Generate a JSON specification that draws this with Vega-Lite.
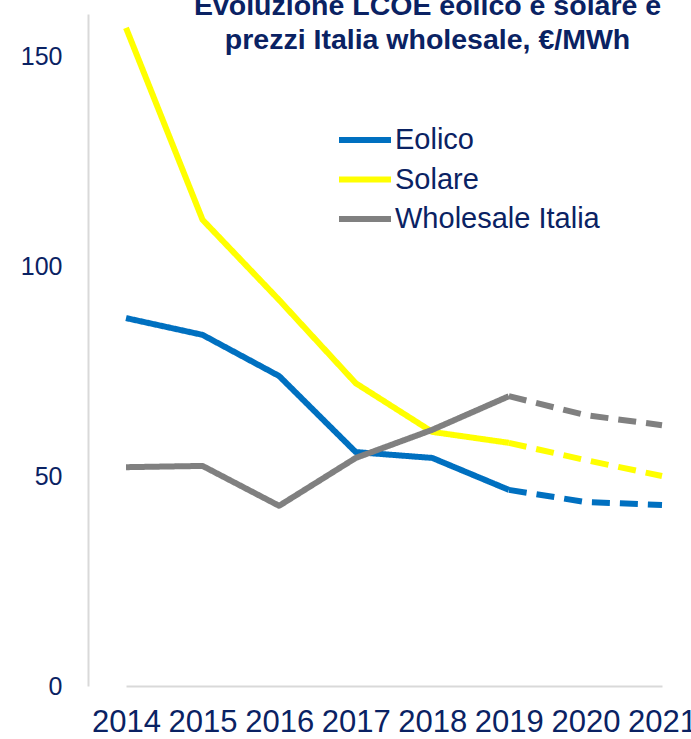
{
  "$schema": "https://vega.github.io/schema/vega-lite/v6.json",
  "width": 603,
  "height": 672,
  "autosize": {"type": "none"},
  "padding": {"left": 88, "top": 14, "right": 0, "bottom": 53},
  "background": "white",
  "config": {
    "view": {"stroke": null},
    "font": "Liberation Sans"
  },
  "title": {
    "text": ["Evoluzione LCOE eolico e solare e", "prezzi Italia wholesale, €/MWh"],
    "fontSize": 28.5,
    "fontWeight": "bold",
    "color": "#0a2263",
    "lineHeight": 34,
    "anchor": "middle",
    "dx": 38,
    "dy": 44,
    "font": "Liberation Sans"
  },
  "data": {
    "values": [
      {"anno": "2014", "serie": "Eolico", "tratto": "storico", "valore": 87.6},
      {"anno": "2015", "serie": "Eolico", "tratto": "storico", "valore": 83.6},
      {"anno": "2016", "serie": "Eolico", "tratto": "storico", "valore": 73.8},
      {"anno": "2017", "serie": "Eolico", "tratto": "storico", "valore": 55.7},
      {"anno": "2018", "serie": "Eolico", "tratto": "storico", "valore": 54.3},
      {"anno": "2019", "serie": "Eolico", "tratto": "storico", "valore": 46.7},
      {"anno": "2019", "serie": "Eolico", "tratto": "stima", "valore": 46.7},
      {"anno": "2020", "serie": "Eolico", "tratto": "stima", "valore": 43.8},
      {"anno": "2021", "serie": "Eolico", "tratto": "stima", "valore": 43.1},
      {"anno": "2014", "serie": "Solare", "tratto": "storico", "valore": 156.7},
      {"anno": "2015", "serie": "Solare", "tratto": "storico", "valore": 111.0},
      {"anno": "2016", "serie": "Solare", "tratto": "storico", "valore": 91.9},
      {"anno": "2017", "serie": "Solare", "tratto": "storico", "valore": 72.1},
      {"anno": "2018", "serie": "Solare", "tratto": "storico", "valore": 60.5},
      {"anno": "2019", "serie": "Solare", "tratto": "storico", "valore": 57.9},
      {"anno": "2019", "serie": "Solare", "tratto": "stima", "valore": 57.9},
      {"anno": "2020", "serie": "Solare", "tratto": "stima", "valore": 53.8},
      {"anno": "2021", "serie": "Solare", "tratto": "stima", "valore": 50.0},
      {"anno": "2014", "serie": "Wholesale Italia", "tratto": "storico", "valore": 52.1},
      {"anno": "2015", "serie": "Wholesale Italia", "tratto": "storico", "valore": 52.4},
      {"anno": "2016", "serie": "Wholesale Italia", "tratto": "storico", "valore": 42.9},
      {"anno": "2017", "serie": "Wholesale Italia", "tratto": "storico", "valore": 54.3},
      {"anno": "2018", "serie": "Wholesale Italia", "tratto": "storico", "valore": 61.0},
      {"anno": "2019", "serie": "Wholesale Italia", "tratto": "storico", "valore": 69.0},
      {"anno": "2019", "serie": "Wholesale Italia", "tratto": "stima", "valore": 69.0},
      {"anno": "2020", "serie": "Wholesale Italia", "tratto": "stima", "valore": 64.5},
      {"anno": "2021", "serie": "Wholesale Italia", "tratto": "stima", "valore": 62.1}
    ]
  },
  "mark": {"type": "line", "strokeWidth": 6, "strokeCap": "butt", "strokeJoin": "round"},
  "encoding": {
    "x": {
      "field": "anno",
      "type": "ordinal",
      "scale": {"type": "point", "range": [38, 574], "padding": 0},
      "axis": {
        "title": null,
        "labelAngle": 0,
        "labelFontSize": 31,
        "labelColor": "#0a2263",
        "labelPadding": 21,
        "ticks": false,
        "domainColor": "#d9d9d9",
        "domainWidth": 2,
        "grid": false,
        "labelOverlap": false
      }
    },
    "y": {
      "field": "valore",
      "type": "quantitative",
      "scale": {"domain": [0, 160], "nice": false},
      "axis": {
        "title": null,
        "values": [0, 50, 100, 150],
        "labelFontSize": 25,
        "labelColor": "#0a2263",
        "labelPadding": 26,
        "ticks": false,
        "domainColor": "#d9d9d9",
        "domainWidth": 2,
        "grid": false
      }
    },
    "color": {
      "field": "serie",
      "type": "nominal",
      "scale": {
        "domain": ["Eolico", "Solare", "Wholesale Italia"],
        "range": ["#0070c0", "#ffff00", "#808080"]
      },
      "legend": {
        "title": null,
        "orient": "none",
        "legendX": 261,
        "legendY": 110,
        "symbolType": "M-2,0H2",
        "symbolSize": 676,
        "symbolStrokeWidth": 6,
        "labelFontSize": 29,
        "labelColor": "#0a2263",
        "labelLimit": 400,
        "labelOffset": 14,
        "rowPadding": 8.5,
        "padding": 0
      }
    },
    "strokeDash": {
      "field": "tratto",
      "type": "nominal",
      "scale": {"domain": ["storico", "stima"], "range": [[1, 0], [18, 10]]},
      "legend": null
    },
    "detail": {"field": "tratto"}
  }
}
